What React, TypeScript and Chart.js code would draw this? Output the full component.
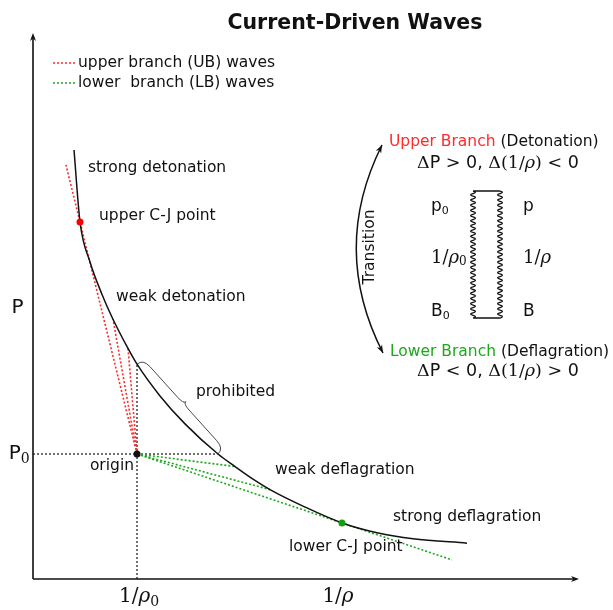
import React, { useEffect, useRef } from "react";
import { Chart, registerables } from "chart.js";

Chart.register(...registerables);

// ---- data ----
const curveX = [0.751, 0.861, 1.044, 1.264, 1.465, 1.740, 1.905, 2.326, 2.784, 3.388, 3.700, 4.029, 4.341, 4.945, 5.659, 6.300, 6.960, 7.949];
const curveY = [7.857, 6.538, 5.806, 5.212, 4.758, 4.223, 3.934, 3.353, 2.841, 2.289, 2.060, 1.829, 1.637, 1.335, 1.027, 0.848, 0.736, 0.657];

const originX = 1.905;
const originY = 2.289;

const ubEndX = [0.604, 1.465, 1.740];
const ubEndY = [7.584, 4.758, 4.223];

const lbEndX = [3.700, 4.341, 7.674];
const lbEndY = [2.060, 1.637, 0.35];

const cjX = [0.861, 5.659];
const cjY = [6.538, 1.027];

const guideTopY = 3.934;   // curve value above the origin
const guideRightX = 3.388; // curve value at P0

const braceStart = [1.905, 3.934];
const braceEnd = [3.388, 2.289];

const xMin = 0, xMax = 10, yMin = 0, yMax = 10;

// ---- styling ----
const SANS = '"DejaVu Sans", sans-serif';
const SERIF = '"DejaVu Serif", serif';
const RED = "#ff2a2a";
const GREEN = "#1ea81e";
const INK = "#111111";

type Seg = { t: string; f: string; c?: string; dy?: number };

const sans = (s: number, w = "") => `${w} ${s}px ${SANS}`.trim();
const serif = (s: number, st = "") => `${st} ${s}px ${SERIF}`.trim();

const mathSegs = (cmp1: string, cmp2: string): Seg[] => [
  { t: "Δ", f: serif(17.5) }, { t: "P", f: sans(17.5) }, { t: ` ${cmp1} `, f: serif(17.5) }, { t: "0, ", f: sans(17.5) },
  { t: "Δ(1/", f: serif(17.5) }, { t: "ρ", f: serif(17.5, "italic") }, { t: `) ${cmp2} `, f: serif(17.5) }, { t: "0", f: sans(17.5) },
];

const notes: { segs: Seg[]; x: number; y: number; align: string }[] = [
  { segs: [{ t: "strong detonation", f: sans(15.5) }], x: 1.007, y: 7.527, align: "left" },
  { segs: [{ t: "upper C-J point", f: sans(15.5) }], x: 1.209, y: 6.648, align: "left" },
  { segs: [{ t: "weak detonation", f: sans(15.5) }], x: 1.52, y: 5.165, align: "left" },
  { segs: [{ t: "prohibited", f: sans(15.5) }], x: 2.985, y: 3.425, align: "left" },
  { segs: [{ t: "origin", f: sans(15.5) }], x: 1.85, y: 2.07, align: "right" },
  { segs: [{ t: "weak deflagration", f: sans(15.5) }], x: 4.432, y: 1.996, align: "left" },
  { segs: [{ t: "strong deflagration", f: sans(15.5) }], x: 6.593, y: 1.136, align: "left" },
  { segs: [{ t: "lower C-J point", f: sans(15.5) }], x: 4.689, y: 0.586, align: "left" },
  { segs: [{ t: "P", f: sans(20) }], x: -0.284, y: 4.963, align: "center" },
  { segs: [{ t: "P", f: sans(20) }, { t: "0", f: serif(14), dy: 5 }], x: -0.06, y: 2.289, align: "right" },
  { segs: [{ t: "1/", f: serif(20) }, { t: "ρ", f: serif(20, "italic") }, { t: "0", f: serif(14), dy: 5 }], x: 1.941, y: -0.33, align: "center" },
  { segs: [{ t: "1/", f: serif(20) }, { t: "ρ", f: serif(20, "italic") }], x: 5.586, y: -0.33, align: "center" },
  { segs: [{ t: "Current-Driven Waves", f: sans(20.5, "bold") }], x: 5.897, y: 10.17, align: "center" },
  // right panel
  { segs: [{ t: "Upper Branch", f: sans(15.5), c: RED }, { t: " (Detonation)", f: sans(15.5) }], x: 6.52, y: 8.004, align: "left" },
  { segs: mathSegs(">", "<"), x: 8.516, y: 7.619, align: "center" },
  { segs: [{ t: "p", f: sans(17) }, { t: "0", f: sans(11), dy: 4 }], x: 7.289, y: 6.813, align: "left" },
  { segs: [{ t: "p", f: sans(17) }], x: 8.974, y: 6.813, align: "left" },
  { segs: [{ t: "1/", f: serif(18) }, { t: "ρ", f: serif(18, "italic") }, { t: "0", f: serif(12), dy: 4 }], x: 7.289, y: 5.879, align: "left" },
  { segs: [{ t: "1/", f: serif(18) }, { t: "ρ", f: serif(18, "italic") }], x: 8.974, y: 5.879, align: "left" },
  { segs: [{ t: "B", f: sans(17) }, { t: "0", f: sans(11), dy: 4 }], x: 7.289, y: 4.89, align: "left" },
  { segs: [{ t: "B", f: sans(17) }], x: 8.974, y: 4.89, align: "left" },
  { segs: [{ t: "Lower Branch", f: sans(15.5), c: GREEN }, { t: " (Deflagration)", f: sans(15.5) }], x: 6.538, y: 4.158, align: "left" },
  { segs: mathSegs("<", ">"), x: 8.516, y: 3.81, align: "center" },
  // legend text
  { segs: [{ t: "upper branch (UB) waves", f: sans(15.5) }], x: 0.824, y: 9.451, align: "left" },
  { segs: [{ t: "lower  branch (LB) waves", f: sans(15.5) }], x: 0.824, y: 9.084, align: "left" },
];

const legendLines = [
  { color: RED, x1: 0.366, x2: 0.769, y: 9.451 },
  { color: GREEN, x1: 0.366, x2: 0.769, y: 9.084 },
];

const transitionArc = { x1: 6.392, y1: 7.949, cx: 5.44, cy: 6.044, x2: 6.41, y2: 4.139, tx: 6.172, ty: 6.081 };
const shockBox = { xl: 8.059, xr: 8.553, yt: 7.106, yb: 4.78 };

function drawRich(ctx: CanvasRenderingContext2D, segs: Seg[], x: number, y: number, align: string) {
  let w = 0;
  for (const s of segs) {
    ctx.font = s.f;
    w += ctx.measureText(s.t).width;
  }
  let cx = align === "center" ? x - w / 2 : align === "right" ? x - w : x;
  ctx.textAlign = "left";
  ctx.textBaseline = "middle";
  for (const s of segs) {
    ctx.font = s.f;
    ctx.fillStyle = s.c || INK;
    ctx.fillText(s.t, cx, y + (s.dy || 0));
    cx += ctx.measureText(s.t).width;
  }
}

function arrowHead(ctx: CanvasRenderingContext2D, x: number, y: number, dx: number, dy: number, len = 8, half = 3) {
  const L = Math.hypot(dx, dy);
  const ux = dx / L, uy = dy / L;
  ctx.beginPath();
  ctx.moveTo(x, y);
  ctx.lineTo(x - ux * len - uy * half, y - uy * len + ux * half);
  ctx.lineTo(x - ux * len * 0.7, y - uy * len * 0.7);
  ctx.lineTo(x - ux * len + uy * half, y - uy * len - ux * half);
  ctx.closePath();
  ctx.fill();
}

function drawBrace(ctx: CanvasRenderingContext2D, x1: number, y1: number, x2: number, y2: number, wb: number, wt: number) {
  const dx = x2 - x1, dy = y2 - y1;
  const L = Math.hypot(dx, dy);
  const ux = dx / L, uy = dy / L;
  const nx = uy, ny = -ux;
  const P = (a: number, o: number, fromEnd = false) =>
    fromEnd ? [x2 - ux * a + nx * o, y2 - uy * a + ny * o] : [x1 + ux * a + nx * o, y1 + uy * a + ny * o];
  ctx.beginPath();
  for (const fe of [false, true]) {
    const s = fe ? [x2, y2] : [x1, y1];
    const c1 = P(0, wb, fe);
    const a1 = P(0.09 * L, wb, fe);
    const a2 = P(0.43 * L, wb, fe);
    const c2 = P(0.5 * L, wb, fe);
    const tip = P(0.5 * L, wt, fe);
    ctx.moveTo(s[0], s[1]);
    ctx.quadraticCurveTo(c1[0], c1[1], a1[0], a1[1]);
    ctx.lineTo(a2[0], a2[1]);
    ctx.quadraticCurveTo(c2[0], c2[1], tip[0], tip[1]);
  }
  ctx.stroke();
}

function wavyLine(ctx: CanvasRenderingContext2D, x: number, yTop: number, yBot: number, amp: number, half: number) {
  const n = Math.max(2, Math.round((yBot - yTop) / half));
  const h = (yBot - yTop) / n;
  ctx.moveTo(x, yTop);
  for (let i = 0; i < n; i++) {
    const side = i % 2 === 0 ? 1 : -1;
    ctx.quadraticCurveTo(x + side * amp * 2, yTop + h * (i + 0.5), x, yTop + h * (i + 1));
  }
}

const decorPlugin = {
  id: "decor",
  afterDraw(chart: any) {
    const ctx: CanvasRenderingContext2D = chart.ctx;
    const xs = chart.scales.x, ys = chart.scales.y;
    const X = (v: number) => xs.getPixelForValue(v);
    const Y = (v: number) => ys.getPixelForValue(v);
    const { left, right, top, bottom } = chart.chartArea;
    ctx.save();
    // axes with arrows
    ctx.strokeStyle = INK;
    ctx.fillStyle = INK;
    ctx.lineWidth = 1.6;
    ctx.beginPath();
    ctx.moveTo(left, bottom);
    ctx.lineTo(right - 4, bottom);
    ctx.moveTo(left, bottom);
    ctx.lineTo(left, top + 4);
    ctx.stroke();
    arrowHead(ctx, right, bottom, 1, 0, 8, 3);
    arrowHead(ctx, left, top, 0, -1, 8, 3);

    // brace
    ctx.lineWidth = 0.9;
    ctx.strokeStyle = "#333";
    drawBrace(ctx, X(braceStart[0]), Y(braceStart[1]), X(braceEnd[0]), Y(braceEnd[1]), 8, 11);

    // legend sample lines
    ctx.lineWidth = 1.5;
    ctx.setLineDash([2, 2]);
    for (const l of legendLines) {
      ctx.strokeStyle = l.color;
      ctx.beginPath();
      ctx.moveTo(X(l.x1), Y(l.y));
      ctx.lineTo(X(l.x2), Y(l.y));
      ctx.stroke();
    }
    ctx.setLineDash([]);

    // transition arc
    const a = transitionArc;
    ctx.strokeStyle = INK;
    ctx.fillStyle = INK;
    ctx.lineWidth = 1.5;
    ctx.beginPath();
    ctx.moveTo(X(a.x1), Y(a.y1));
    ctx.quadraticCurveTo(X(a.cx), Y(a.cy), X(a.x2), Y(a.y2));
    ctx.stroke();
    arrowHead(ctx, X(a.x1), Y(a.y1), X(a.x1) - X(a.cx), Y(a.y1) - Y(a.cy), 8, 3);
    arrowHead(ctx, X(a.x2), Y(a.y2), X(a.x2) - X(a.cx), Y(a.y2) - Y(a.cy), 8, 3);
    ctx.save();
    ctx.translate(X(a.tx), Y(a.ty));
    ctx.rotate(-Math.PI / 2);
    drawRich(ctx, [{ t: "Transition", f: sans(15.5) }], 0, 0, "center");
    ctx.restore();

    // shock box with wavy sides
    const b = shockBox;
    ctx.lineWidth = 1.3;
    ctx.strokeStyle = INK;
    ctx.beginPath();
    ctx.moveTo(X(b.xl), Y(b.yt));
    ctx.lineTo(X(b.xr), Y(b.yt));
    ctx.moveTo(X(b.xl), Y(b.yb));
    ctx.lineTo(X(b.xr), Y(b.yb));
    wavyLine(ctx, X(b.xl), Y(b.yt), Y(b.yb), 2.4, 2.6);
    wavyLine(ctx, X(b.xr), Y(b.yt), Y(b.yb), 2.4, 2.6);
    ctx.stroke();

    // texts
    for (const n of notes) drawRich(ctx, n.segs, X(n.x), Y(n.y), n.align);
    ctx.restore();
  },
};

const line = (pts: { x: number; y: number }[], color: string, width: number, dash: number[] = []) => ({
  data: pts,
  showLine: true,
  borderColor: color,
  borderWidth: width,
  borderDash: dash,
  pointRadius: 0,
  fill: false,
  clip: false as any,
});

export default function App() {
  const ref = useRef<HTMLCanvasElement | null>(null);
  useEffect(() => {
    if (!ref.current) return;
    const curve = curveX.map((x, i) => ({ x, y: curveY[i] }));
    const ub = ubEndX.map((x, i) => line([{ x: originX, y: originY }, { x, y: ubEndY[i] }], RED, 1.6, [2, 2]));
    const lb = lbEndX.map((x, i) => line([{ x: originX, y: originY }, { x, y: lbEndY[i] }], GREEN, 1.6, [2, 2]));
    const chart = new Chart(ref.current, {
      type: "scatter",
      data: {
        datasets: [
          {
            data: [{ x: originX, y: originY }],
            pointRadius: 3.5,
            pointBackgroundColor: INK,
            pointBorderWidth: 0,
            showLine: false,
          } as any,
          {
            data: [{ x: cjX[0], y: cjY[0] }],
            pointRadius: 3.5,
            pointBackgroundColor: "#ff0000",
            pointBorderWidth: 0,
            showLine: false,
          } as any,
          {
            data: [{ x: cjX[1], y: cjY[1] }],
            pointRadius: 3.5,
            pointBackgroundColor: "#10a010",
            pointBorderWidth: 0,
            showLine: false,
          } as any,
          { ...line(curve, INK, 1.5), cubicInterpolationMode: "monotone" } as any,
          ...ub,
          ...lb,
          line([{ x: originX, y: yMin }, { x: originX, y: guideTopY }], INK, 1.2, [2, 2]),
          line([{ x: xMin, y: originY }, { x: guideRightX, y: originY }], INK, 1.2, [2, 2]),
        ],
      },
      options: {
        animation: false,
        responsive: false,
        events: [],
        layout: { padding: { left: 33, right: 34, top: 33, bottom: 31 } },
        scales: {
          x: { type: "linear", min: xMin, max: xMax, display: false },
          y: { type: "linear", min: yMin, max: yMax, display: false },
        },
        plugins: { legend: { display: false }, tooltip: { enabled: false }, title: { display: false } },
      },
      plugins: [decorPlugin],
    });
    return () => chart.destroy();
  }, []);
  return (
    <div style={{ position: "absolute", left: 0, top: 0, width: 613, height: 610, background: "#fff" }}>
      <canvas ref={ref} width={613} height={610} style={{ display: "block", width: 613, height: 610 }} />
    </div>
  );
}
